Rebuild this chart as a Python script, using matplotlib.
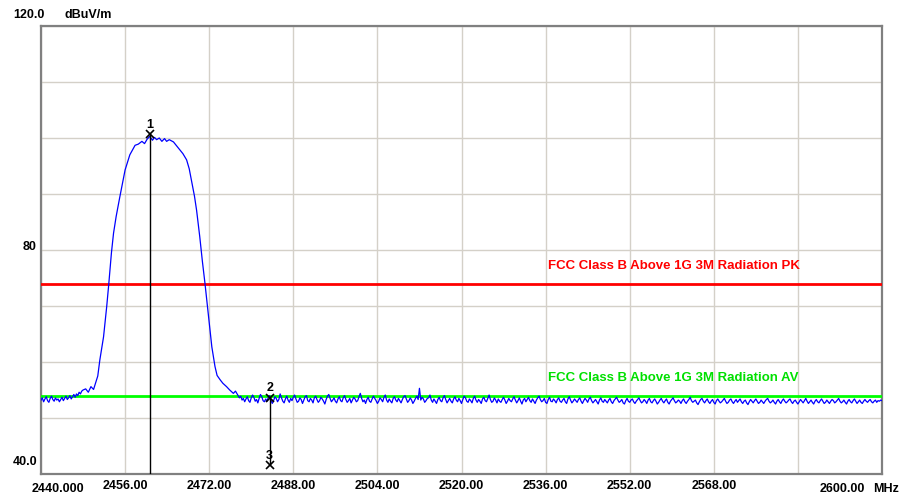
import numpy as np
import matplotlib
matplotlib.use("Agg")
import matplotlib.pyplot as plt
import matplotlib.transforms as mtransforms

# --- measured trace (MHz, dBuV/m) ---
left_floor_level = [
    53.2, 53.6, 52.9, 53.4, 53.8, 53.1, 52.8, 53.5, 53.9, 53.3, 53.0, 53.6, 53.2, 53.4, 52.9, 53.3, 53.7,
    53.1, 53.5, 53.9, 53.3, 53.6, 54.0, 53.4, 53.8, 54.2, 53.7, 54.3, 54.0, 54.6, 54.3, 54.8, 55.0,
]
left_floor_span = (2440.0, 2448.0)

hump_freq = [2448.5, 2449.0, 2449.5, 2450.0, 2450.3, 2450.8, 2451.2, 2451.9, 2452.5,
             2452.9, 2453.4, 2453.8, 2454.3, 2455.0, 2456.0, 2456.9, 2457.9, 2458.5, 2459.2,
             2459.7, 2460.2, 2460.7, 2461.2, 2461.6, 2462.0, 2462.5, 2463.0, 2463.5,
             2463.9, 2464.4, 2465.2, 2465.8, 2466.4, 2467.0, 2467.7, 2468.2, 2468.7,
             2469.2, 2469.6, 2470.2, 2470.7, 2471.2, 2471.8, 2472.5, 2473.1, 2473.5,
             2474.1, 2474.6, 2475.3, 2475.9, 2476.6, 2477.0]
hump_level = [55.2, 54.6, 55.6, 55.1, 56.0, 57.5, 60.4, 64.5, 69.9,
              74.0, 79.5, 83.0, 86.0, 89.5, 94.3, 97.0, 98.7, 98.9, 99.4,
              99.0, 99.8, 100.3, 99.6, 100.1, 99.7, 100.0, 99.4, 99.9,
              99.4, 99.7, 99.3, 98.6, 97.9, 97.2, 96.1, 94.5, 92.0,
              89.6, 87.1, 82.4, 78.0, 74.0, 68.7, 62.7, 59.2, 57.6,
              56.8, 56.2, 55.6, 55.0, 54.4, 54.8]

right_floor_level = [
    54.0, 53.6, 53.9, 53.2, 53.5, 52.9, 53.4, 53.8, 53.1, 52.8, 53.6, 54.1, 53.7, 53.0, 53.3, 52.7, 53.5, 54.2, 53.8, 53.1,
    52.9, 53.4, 53.0, 53.7, 54.0, 53.2, 52.6, 53.1, 53.8, 53.5, 52.9, 53.3, 54.3, 53.6, 53.0, 52.7, 53.4, 53.9, 53.2, 52.8,
    53.5, 53.1, 53.7, 54.1, 53.4, 52.8, 53.0, 53.6, 53.3, 52.6, 53.2, 53.8, 54.0, 53.1, 52.9, 53.5, 53.2, 52.7, 53.6, 53.9,
    53.3, 52.8, 53.1, 53.7, 53.4, 53.0, 52.5, 53.3, 53.9, 54.2, 53.5, 52.9, 53.2, 53.6, 53.0, 52.7, 53.4, 53.8, 53.1, 52.9,
    53.6, 54.0, 53.3, 52.8, 53.1, 53.5, 52.7, 53.2, 53.7, 53.4, 52.9, 53.1, 53.8, 54.4, 53.5, 52.9, 53.2, 52.6, 53.3, 53.7,
    53.0, 52.8, 53.4, 53.9, 53.5, 53.1, 52.6, 53.0, 53.6, 53.3, 52.9, 53.7, 54.1, 53.2, 52.8, 53.4, 53.0, 52.7, 53.5, 53.8,
    53.2, 52.9, 53.5, 53.1, 52.7, 53.3, 53.8, 54.0, 53.4, 52.8, 53.1, 53.6, 53.2, 52.6, 53.0, 53.5, 53.9, 53.3, 55.3, 53.2,
    53.7, 53.4, 52.8, 53.1, 53.5, 53.6, 54.1, 53.2, 52.8, 53.4, 53.0, 52.6, 53.3, 53.7, 53.1, 52.9, 53.6, 54.0, 53.3, 52.7,
    53.1, 53.5, 53.0, 52.7, 53.4, 53.8, 53.2, 52.9, 53.5, 53.1, 52.6, 53.3, 53.9, 53.6, 53.0, 52.8, 53.4, 53.1, 52.7, 53.5,
    53.9, 53.2, 52.8, 53.3, 53.0, 52.6, 53.4, 53.7, 53.1, 52.9, 53.5, 54.1, 53.3, 52.8, 53.0, 53.6, 53.2, 52.7, 53.4, 53.0,
    52.8, 53.3, 53.7, 53.2, 52.6, 53.0, 53.5, 53.1, 52.9, 53.4, 53.8, 53.2, 52.7, 53.1, 53.6, 53.0, 52.5, 53.2, 53.5, 52.9,
    53.3, 53.7, 53.1, 52.8, 53.4, 53.0, 52.6, 53.2, 53.6, 53.9, 53.3, 52.9, 53.1, 53.5, 52.8, 52.6, 53.3, 53.7, 53.0, 52.9,
    53.4, 53.1, 52.7, 53.3, 53.6, 53.0, 52.8, 53.2, 53.5, 52.9, 52.6, 53.4, 53.8, 53.2, 52.7, 53.0, 53.4, 53.1, 52.8, 53.3,
    53.6, 53.0, 52.6, 53.1, 53.5, 53.2, 52.8, 53.4, 53.7, 53.1, 52.7, 53.0, 53.3, 52.9, 52.5, 53.2, 53.6, 53.0, 52.8, 53.3,
    53.0, 52.7, 53.2, 53.5, 52.9, 52.6, 53.1, 53.4, 53.7, 53.2, 52.8, 53.0, 53.3, 52.7, 52.5, 53.1, 53.5, 53.0, 52.8, 53.2,
    53.4, 52.9, 52.6, 53.0, 53.3, 53.6, 53.1, 52.7, 52.9, 53.3, 53.0, 52.6, 53.2, 53.5, 52.9, 52.7, 53.1, 53.4, 53.0, 52.5,
    52.8, 53.2, 53.5, 53.0, 52.7, 53.1, 53.4, 52.8, 52.5, 53.0, 53.3, 53.6, 53.1, 52.7, 52.9, 53.2, 53.0, 52.6, 53.1, 53.4,
    52.9, 52.6, 53.0, 53.3, 53.7, 53.1, 52.8, 53.0, 53.2, 52.7, 52.4, 52.9, 53.3, 53.5, 53.0, 52.7, 53.1, 53.4, 52.9, 52.6,
    53.0, 53.3, 52.8, 52.5, 53.1, 53.4, 53.0, 52.7, 52.9, 53.2, 53.5, 53.0, 52.6, 52.8, 53.2, 53.4, 52.9, 52.6, 53.0, 53.3,
    52.8, 53.1, 53.4, 52.9, 52.6, 53.0, 53.2, 52.7, 52.4, 52.9, 53.3, 53.0, 52.7, 53.1, 53.4, 53.0, 52.6, 52.8, 53.2, 52.9,
    52.6, 53.0, 53.3, 53.5, 53.0, 52.7, 52.9, 53.2, 52.8, 52.5, 53.0, 53.3, 52.9, 52.6, 53.1, 53.4, 53.0, 52.7, 52.9, 53.2,
    53.4, 52.9, 52.6, 53.0, 53.2, 52.8, 52.5, 52.9, 53.3, 53.0, 52.7, 53.1, 53.5, 53.0, 52.6, 52.9, 53.2, 52.8, 52.5, 53.0,
    53.3, 52.9, 52.7, 53.1, 53.4, 53.0, 52.6, 52.8, 53.2, 52.9, 52.6, 53.0, 53.3, 53.1, 52.7, 52.9, 53.2, 53.5, 53.0, 52.7,
    52.9, 53.2, 52.8, 52.5, 53.0, 53.3, 52.9, 52.7, 53.1, 53.4, 53.0, 52.6, 52.9, 53.2, 52.8, 52.6, 53.0, 53.3, 53.0, 52.8,
    53.1, 53.3, 52.9, 52.7, 53.0, 53.2, 52.8, 53.1, 53.0, 53.2, 53.1,
]
right_floor_span = (2477.5, 2600.0)

# limits
pk_limit = 74.0
av_limit = 54.0
pk_label = "FCC Class B Above 1G 3M Radiation PK"
av_label = "FCC Class B Above 1G 3M Radiation AV"

# markers: number, freq, level
marker_ids = ["1", "2", "3"]
marker_freq = [2460.72, 2483.50, 2483.50]
marker_level = [100.7, 53.6, 41.6]

x_ticks = [2440, 2456, 2472, 2488, 2504, 2520, 2536, 2552, 2568, 2584, 2600]
x_labels = ["", "2456.00", "2472.00", "2488.00", "2504.00", "2520.00",
            "2536.00", "2552.00", "2568.00", "", ""]
y_ticks = [40, 50, 60, 70, 80, 90, 100, 110, 120]

# sweep points are evenly spaced over each floor segment
left_floor_freq = np.linspace(*left_floor_span, len(left_floor_level))
right_floor_freq = np.linspace(*right_floor_span, len(right_floor_level))
freq = np.concatenate([left_floor_freq, hump_freq, right_floor_freq])
level = np.concatenate([left_floor_level, hump_level, right_floor_level])

font = dict(family="Liberation Sans", weight="bold", size=9)
limit_font = dict(family="Liberation Sans", weight="bold", size=9.5)

fig = plt.figure(figsize=(9.12, 4.96), dpi=100, facecolor="white")
ax = fig.add_axes([41 / 912, 22 / 496, 841 / 912, 448 / 496])
ax.set_xlim(2440, 2600)
ax.set_ylim(40, 120)

ax.set_xticks(x_ticks)
ax.set_xticklabels(x_labels, **font)
ax.set_yticks(y_ticks)
ax.set_yticklabels([])
ax.tick_params(length=0, pad=4)
ax.grid(True, color="#d4d0c8", linewidth=1.0)
for s in ax.spines.values():
    s.set_color("#808080")
    s.set_linewidth(1.6)

ax.axhline(pk_limit, color="#ff0000", linewidth=2.0, zorder=3)
ax.axhline(av_limit, color="#00ff00", linewidth=2.0, zorder=3)
ax.text(2536.5, pk_limit + 2.0, pk_label, color="#ff0000", va="bottom", ha="left", **limit_font)
ax.text(2536.5, av_limit + 2.0, av_label, color="#00e000", va="bottom", ha="left", **limit_font)

ax.plot(freq, level, color="#0000ff", linewidth=0.9, zorder=4)

# marker stems
ax.vlines(marker_freq[0], 40, marker_level[0], color="black", linewidth=1.0, zorder=5)
ax.vlines(marker_freq[1], marker_level[2], marker_level[1], color="black", linewidth=1.0, zorder=5)
for mid, f, l in zip(marker_ids, marker_freq, marker_level):
    ax.plot(f, l, marker="x", color="black", markersize=6, markeredgewidth=1.2, zorder=6)
    ax.annotate(mid, (f, l), xytext=(0, 2.5), textcoords="offset points",
                ha="center", va="bottom", **font)

# axis captions
blend_x = mtransforms.blended_transform_factory(ax.transData, ax.transAxes)
ax.text(2443.3, -0.020, "2440.000", transform=blend_x, ha="center", va="top", **font)
ax.text(2592.4, -0.020, "2600.00", transform=blend_x, ha="center", va="top", **font)
ax.text(0.989, -0.020, "MHz", transform=ax.transAxes, ha="left", va="top", **font)

ax.text(0.0048, 1.0246, "120.0", transform=ax.transAxes, ha="right", va="center", **font)
ax.text(0.0285, 1.0246, "dBuV/m", transform=ax.transAxes, ha="left", va="center", **font)
ax.text(-0.0048, 0.5078, "80", transform=ax.transAxes, ha="right", va="center", **font)
ax.text(-0.0048, 0.0268, "40.0", transform=ax.transAxes, ha="right", va="center", **font)

fig.savefig("out.png", dpi=100, facecolor="white")
